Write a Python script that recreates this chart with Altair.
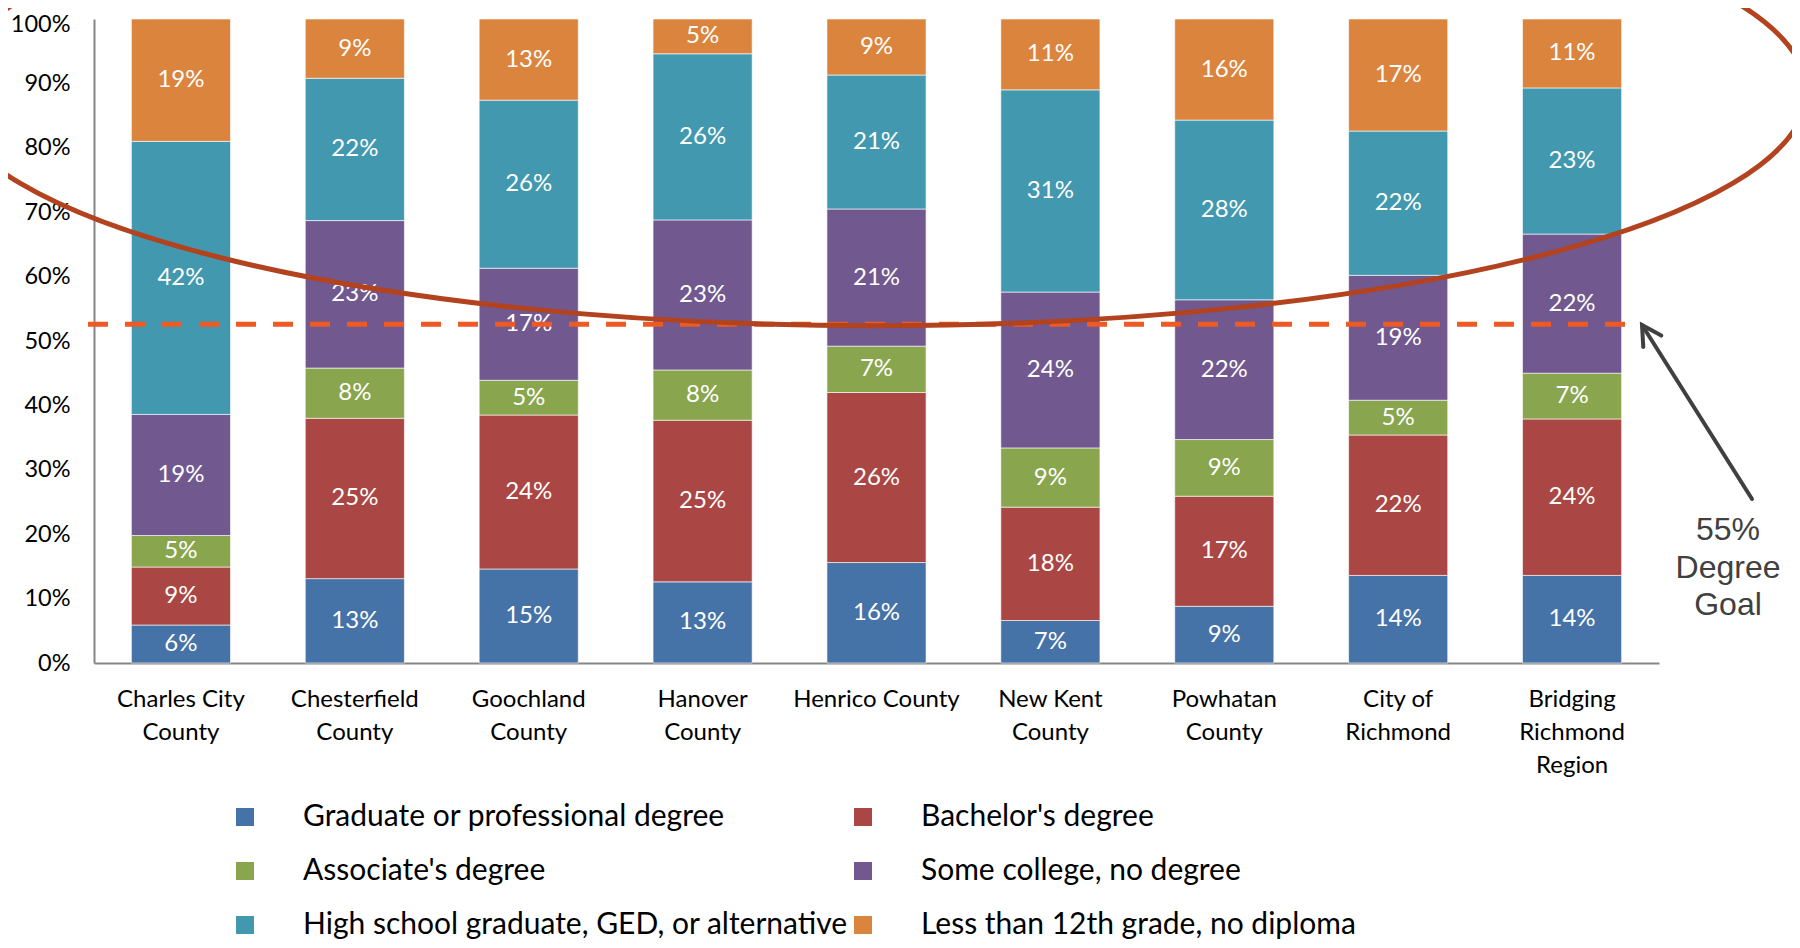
import altair as alt
import pandas as pd

# ---------------- data ----------------
counties = [
    "Charles City\nCounty",
    "Chesterfield\nCounty",
    "Goochland\nCounty",
    "Hanover\nCounty",
    "Henrico County",
    "New Kent\nCounty",
    "Powhatan\nCounty",
    "City of\nRichmond",
    "Bridging\nRichmond\nRegion",
]

levels = [
    "Graduate or professional degree",
    "Bachelor's degree",
    "Associate's degree",
    "Some college, no degree",
    "High school graduate, GED, or alternative",
    "Less than 12th grade, no diploma",
]
colors = ["#4572A7", "#AA4643", "#89A54E", "#71588F", "#4198AF", "#DB843D"]

graduate = [5.9, 13.1, 14.6, 12.6, 15.6, 6.6, 8.8, 13.6, 13.6]
bachelor = [9.0, 24.9, 23.9, 25.1, 26.4, 17.6, 17.1, 21.8, 24.3]
associate = [4.9, 7.8, 5.4, 7.8, 7.2, 9.2, 8.8, 5.4, 7.1]
some_college = [18.8, 22.9, 17.4, 23.3, 21.3, 24.2, 21.7, 19.4, 21.6]
high_school = [42.4, 22.1, 26.1, 25.8, 20.8, 31.4, 27.9, 22.4, 22.7]
less_12th = [19.0, 9.2, 12.6, 5.4, 8.7, 11.0, 15.7, 17.4, 10.7]

y_ticks = [0, 10, 20, 30, 40, 50, 60, 70, 80, 90, 100]

goal_line = [52.6]
goal_text = "55%\nDegree\nGoal"
ellipse_center_county = ["Henrico County"]
ellipse_center_value = [88.7]

series = [graduate, bachelor, associate, some_college, high_school, less_12th]
rows = []
for i, c in enumerate(counties):
    for j, lev in enumerate(levels):
        rows.append({"county": c, "level": lev, "order": j, "pct": series[j][i]})
df = pd.DataFrame(rows)

ann_df = pd.DataFrame({"goal": goal_line})
ell_df = pd.DataFrame({"county": ellipse_center_county, "yc": ellipse_center_value})

FONT = "Lato"

# ---------------- shapes for annotations ----------------
ELLIPSE_PATH = ("M -1 0 C -1 -0.139 -0.5523 -0.2516 0 -0.2516 "
                "C 0.5523 -0.2516 1 -0.139 1 0 "
                "C 1 0.139 0.5523 0.2516 0 0.2516 "
                "C -0.5523 0.2516 -1 0.139 -1 0 Z")
CHEVRON_PATH = "M -0.485 0.875 L 0 0 L 0.485 0.875"

x_scale = alt.Scale(domain=counties, paddingInner=0.43, paddingOuter=0.215)
y_scale = alt.Scale(domain=[0, 100], nice=False)

x_enc = alt.X(
    "county:N",
    sort=counties,
    scale=x_scale,
    axis=alt.Axis(
        title=None,
        labelAngle=0,
        labelExpr="split(datum.label, '\\n')",
        labelFont=FONT,
        labelFontSize=24,
        labelColor="#000000",
        labelLineHeight=33,
        labelPadding=24,
        ticks=False,
        tickSize=0,
        domainColor="#868686",
        domainWidth=2,
        labelLimit=300,
    ),
)

y_axis = alt.Axis(
    title=None,
    values=y_ticks,
    labelExpr="datum.value + '%'",
    grid=False,
    ticks=False,
    tickSize=0,
    domainColor="#868686",
    domainWidth=2,
    labelFont=FONT,
    labelFontSize=23.5,
    labelColor="#000000",
    labelPadding=24,
    labelOffset={"condition": {"test": "datum.value == 100", "value": 5}, "value": 0},
)

base = alt.Chart(df).transform_stack(
    stack="pct",
    groupby=["county"],
    as_=["y0", "y1"],
    sort=[alt.SortField("order", order="ascending")],
).transform_calculate(
    mid="(datum.y0 + datum.y1) / 2",
    label="format(datum.pct, '.0f') + '%'",
)

bars = base.mark_bar(stroke="#ffffff", strokeWidth=1, strokeOpacity=0.6).encode(
    x=x_enc,
    y=alt.Y("y0:Q", scale=y_scale, axis=y_axis),
    y2="y1:Q",
    color=alt.Color(
        "level:N",
        scale=alt.Scale(domain=levels, range=colors),
        legend=alt.Legend(
            title=None,
            orient="none",
            direction="horizontal",
            legendX=136,
            legendY=783,
            columns=2,
            symbolType="square",
            symbolSize=324,
            symbolStrokeWidth=0,
            labelFont=FONT,
            labelFontSize=30,
            labelColor="#000000",
            labelOffset=43,
            rowPadding=24,
            columnPadding=-4,
            labelLimit=800,
            padding=0,
        ),
    ),
    order=alt.Order("order:Q"),
)

labels = base.mark_text(color="#ffffff", font=FONT, fontSize=24, baseline="middle").encode(
    x=alt.X("county:N", sort=counties, scale=x_scale),
    y=alt.Y("mid:Q", scale=y_scale),
    text="label:N",
)

goal = alt.Chart(ann_df).mark_rule(
    color="#EE5A24", strokeWidth=5, strokeDash=[20, 17]
).encode(
    y=alt.Y("goal:Q", scale=y_scale),
    x=alt.value(-6),
    x2=alt.value(1548),
)

ellipse = alt.Chart(ell_df).mark_point(
    shape=ELLIPSE_PATH,
    size=3459600,
    filled=False,
    stroke="#B3431E",
    strokeWidth=5,
    opacity=1,
).encode(
    x=alt.X("county:N", sort=counties, scale=x_scale),
    y=alt.Y("yc:Q", scale=y_scale),
)

arrow = alt.Chart(ann_df).mark_rule(color="#404040", strokeWidth=4, strokeCap="round").encode(
    x=alt.value(1658), y=alt.value(480), x2=alt.value(1548), y2=alt.value(306)
)

arrow_head = alt.Chart(ann_df).mark_point(
    shape=CHEVRON_PATH,
    size=1936,
    angle=327.7,
    filled=False,
    stroke="#404040",
    strokeWidth=4,
    strokeCap="round",
    strokeJoin="miter",
    opacity=1,
).encode(x=alt.value(1548), y=alt.value(306))

goal_label = alt.Chart(ann_df).mark_text(
    font="Liberation Sans",
    fontSize=32,
    color="#404040",
    align="center",
    baseline="middle",
    lineBreak="\n",
    lineHeight=37.5,
).encode(x=alt.value(1634), y=alt.value(511), text=alt.value(goal_text))

chart = alt.layer(
    bars, labels, goal, ellipse, arrow, arrow_head, goal_label
).properties(
    width=1565,
    height=644,
    autosize=alt.AutoSizeParams(type="none"),
    padding={"left": 86, "top": 11, "right": 133, "bottom": 277},
    background="#ffffff",
).configure_view(strokeWidth=0)

chart.save("out.html", embed_options={"renderer": "svg", "actions": False})
